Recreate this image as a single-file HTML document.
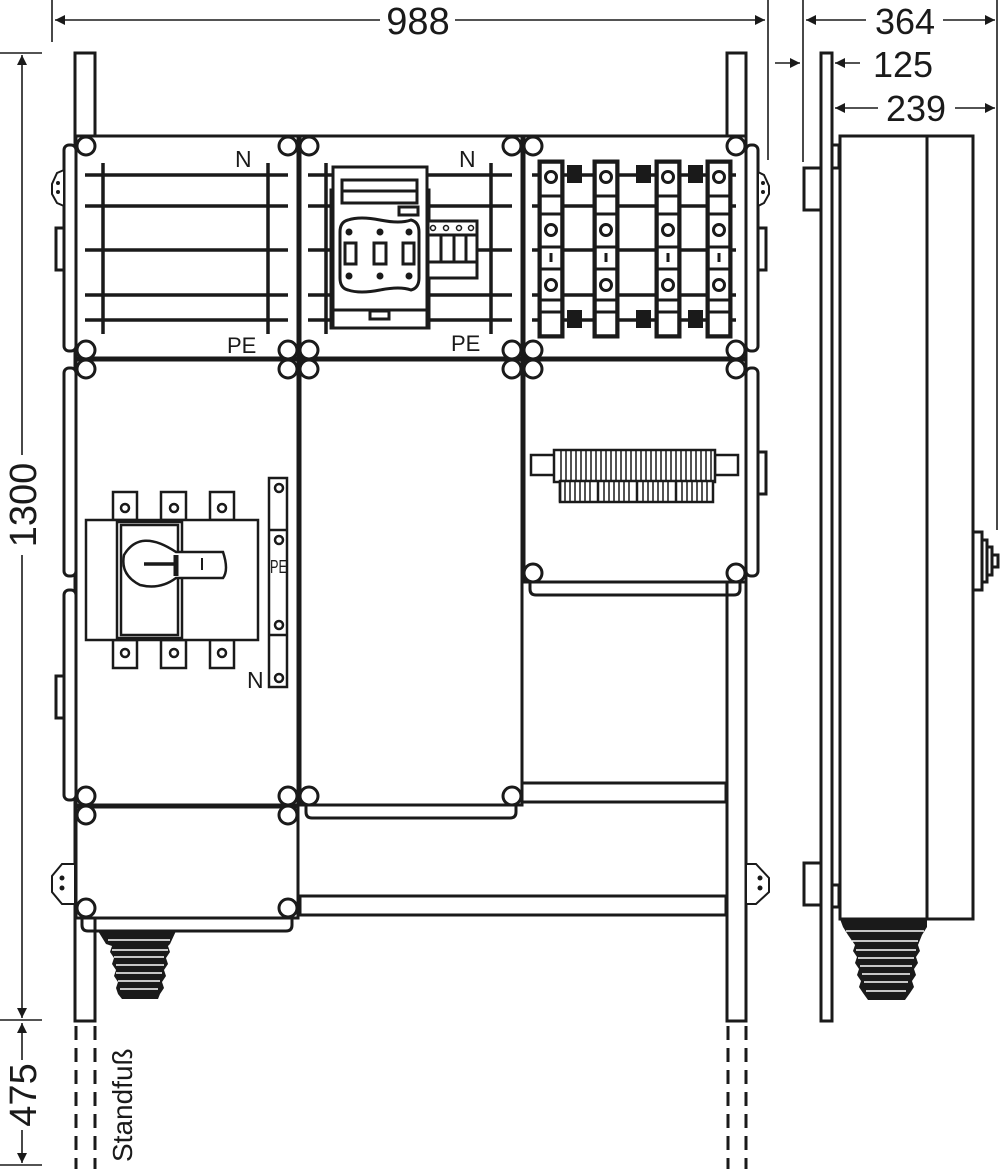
<!DOCTYPE html>
<html><head><meta charset="utf-8"><style>
html,body{margin:0;padding:0;background:#fff}
svg{display:block}
text{font-family:"Liberation Sans",sans-serif;fill:#1a1a1a}
</style></head><body>
<svg width="1000" height="1169" viewBox="0 0 1000 1169" xmlns="http://www.w3.org/2000/svg">
<defs>
<marker id="a" viewBox="0 0 10 10" refX="10" refY="5" markerWidth="12" markerHeight="10" markerUnits="userSpaceOnUse" orient="auto-start-reverse"><path d="M0,0 L10,5 L0,10z" fill="#1a1a1a"/></marker>
</defs>
<g stroke="#1a1a1a" stroke-width="1.6" fill="none">
<line x1="52" y1="0" x2="52" y2="42"/>
<line x1="768" y1="0" x2="768" y2="160"/>
<line x1="803" y1="0" x2="803" y2="162"/>
<line x1="997" y1="0" x2="997" y2="530"/>
<line x1="55" y1="20" x2="380" y2="20" marker-start="url(#a)"/>
<line x1="455" y1="20" x2="765" y2="20" marker-end="url(#a)"/>
<line x1="806" y1="20" x2="866" y2="20" marker-start="url(#a)"/>
<line x1="943" y1="20" x2="995" y2="20" marker-end="url(#a)"/>
<line x1="775" y1="63" x2="800" y2="63" marker-end="url(#a)"/>
<line x1="835" y1="63" x2="860" y2="63" marker-start="url(#a)"/>
<line x1="835" y1="108" x2="878" y2="108" marker-start="url(#a)"/>
<line x1="955" y1="108" x2="995" y2="108" marker-end="url(#a)"/>
<line x1="0" y1="53" x2="42" y2="53"/>
<line x1="0" y1="1020" x2="42" y2="1020"/>
<line x1="0" y1="1165" x2="42" y2="1165"/>
<line x1="22" y1="55" x2="22" y2="455" marker-start="url(#a)"/>
<line x1="22" y1="555" x2="22" y2="1018" marker-end="url(#a)"/>
<line x1="22" y1="1023" x2="22" y2="1060" marker-start="url(#a)"/>
<line x1="22" y1="1130" x2="22" y2="1163" marker-end="url(#a)"/>
</g>
<g style="fill:#222">
<text x="418" y="34" font-size="38" text-anchor="middle">988</text>
<text x="905" y="34" font-size="36" text-anchor="middle">364</text>
<text x="903" y="77" font-size="36" text-anchor="middle">125</text>
<text x="916" y="121" font-size="36" text-anchor="middle">239</text>
<text transform="translate(36,505) rotate(-90)" font-size="38" text-anchor="middle">1300</text>
<text transform="translate(36,1095) rotate(-90)" font-size="38" text-anchor="middle">475</text>
<text transform="translate(132,1162) rotate(-90)" font-size="28">Standfuß</text>
</g>

<g stroke="#1a1a1a" stroke-width="3" fill="none">
<rect x="75" y="53" width="20" height="968" fill="#fff"/>
<rect x="727" y="53" width="19" height="968" fill="#fff"/>
<g stroke-dasharray="14,8" stroke-width="3">
<line x1="76" y1="1026" x2="76" y2="1169"/><line x1="95" y1="1026" x2="95" y2="1169"/>
<line x1="728" y1="1026" x2="728" y2="1169"/><line x1="746" y1="1026" x2="746" y2="1169"/>
</g>
<rect x="522" y="783" width="204" height="19" fill="#fff"/>
<rect x="300" y="896" width="426" height="19" fill="#fff"/>
<rect x="64" y="145" width="12" height="206" rx="5" fill="#fff"/>
<rect x="64" y="368" width="12" height="208" rx="5" fill="#fff"/>
<rect x="64" y="590" width="12" height="210" rx="5" fill="#fff"/>
<rect x="56" y="228" width="8" height="42"/>
<rect x="56" y="676" width="8" height="42"/>
<path d="M64,170 L57,173 L52,184 L52,194 L57,203 L64,206 Z" stroke-width="2" fill="#fff"/>
<path d="M75,864 L62,864 L52,876 L52,892 L62,904 L75,904 Z" stroke-width="2" fill="#fff"/>
<rect x="746" y="145" width="12" height="206" rx="5" fill="#fff"/>
<rect x="746" y="368" width="12" height="208" rx="5" fill="#fff"/>
<rect x="758" y="228" width="8" height="42"/>
<rect x="758" y="452" width="8" height="42"/>
<path d="M758,172 L764,175 L769,186 L769,194 L764,203 L758,206 Z" stroke-width="2" fill="#fff"/>
<path d="M746,864 L756,864 L769,878 L769,892 L756,904 L746,904 Z" stroke-width="2" fill="#fff"/>

<rect x="76" y="136" width="222" height="222" fill="#fff"/>
<rect x="300" y="136" width="222" height="222" fill="#fff"/>
<rect x="524" y="136" width="222" height="222" fill="#fff"/>
<rect x="76" y="360" width="222" height="445" fill="#fff"/>
<rect x="300" y="360" width="222" height="445" fill="#fff"/>
<rect x="524" y="360" width="222" height="222" fill="#fff"/>
<rect x="76" y="807" width="222" height="111" fill="#fff"/>
<path d="M306,805 L306,812 Q306,818 312,818 L510,818 Q516,818 516,812 L516,805"/>
<path d="M530,582 L530,589 Q530,595 536,595 L734,595 Q740,595 740,589 L740,582"/>
<path d="M82,918 L82,925 Q82,931 88,931 L286,931 Q292,931 292,925 L292,918"/>
<g stroke-width="3.5">
<line x1="85" y1="175" x2="288" y2="175"/><line x1="85" y1="206" x2="288" y2="206"/>
<line x1="85" y1="250" x2="288" y2="250"/><line x1="85" y1="295" x2="288" y2="295"/>
<line x1="85" y1="320" x2="288" y2="320"/>
<line x1="103" y1="163" x2="103" y2="334"/><line x1="268" y1="163" x2="268" y2="334"/>
<line x1="308" y1="175" x2="512" y2="175"/><line x1="308" y1="206" x2="512" y2="206"/>
<line x1="308" y1="250" x2="512" y2="250"/><line x1="308" y1="295" x2="512" y2="295"/>
<line x1="308" y1="320" x2="512" y2="320"/>
<line x1="326" y1="163" x2="326" y2="334"/><line x1="491" y1="163" x2="491" y2="334"/>
<line x1="532" y1="175" x2="736" y2="175"/><line x1="532" y1="206" x2="736" y2="206"/>
<line x1="532" y1="250" x2="736" y2="250"/><line x1="532" y1="295" x2="736" y2="295"/>
<line x1="532" y1="320" x2="736" y2="320"/>
</g>
<rect x="331" y="190" width="98" height="138" fill="#fff"/>
<rect x="333" y="167" width="94" height="161" fill="#fff"/>
<line x1="333" y1="310" x2="427" y2="310"/>
<rect x="342" y="180" width="75" height="23"/><line x1="342" y1="191" x2="417" y2="191"/>
<rect x="399" y="207" width="19" height="8"/>
<path d="M348,220 Q360,216 380,220 Q400,224 411,220 Q419,222 419,232 L419,278 Q419,288 411,290 Q400,286 380,290 Q360,294 348,290 Q340,288 340,278 L340,232 Q340,222 348,220z"/>
<rect x="345" y="243" width="11" height="21"/><rect x="374" y="243" width="12" height="21"/><rect x="403" y="243" width="11" height="21"/>
<rect x="370" y="311" width="19" height="8"/>
<rect x="428" y="221" width="49" height="57" fill="#fff"/>
<line x1="428" y1="235" x2="477" y2="235"/><line x1="428" y1="262" x2="477" y2="262"/>
<line x1="441" y1="235" x2="441" y2="262"/><line x1="454" y1="235" x2="454" y2="262"/><line x1="466" y1="235" x2="466" y2="262"/>
</g>
<g fill="#1a1a1a">
<circle cx="349" cy="232" r="3.5"/><circle cx="380" cy="232" r="3.5"/><circle cx="409" cy="232" r="3.5"/>
<circle cx="349" cy="276" r="3.5"/><circle cx="380" cy="276" r="3.5"/><circle cx="409" cy="276" r="3.5"/>
<circle cx="58" cy="183" r="2"/><circle cx="58" cy="192" r="2"/><circle cx="62" cy="878" r="2.5"/><circle cx="62" cy="888" r="2.5"/>
<circle cx="763" cy="183" r="2"/><circle cx="763" cy="192" r="2"/><circle cx="760" cy="878" r="2.5"/><circle cx="760" cy="888" r="2.5"/>
</g>
<g fill="#fff" stroke="#1a1a1a" stroke-width="1.5">
<circle cx="433" cy="228" r="2.5"/><circle cx="446" cy="228" r="2.5"/><circle cx="459" cy="228" r="2.5"/><circle cx="471" cy="228" r="2.5"/>
</g>
<g stroke="#1a1a1a" stroke-width="3" fill="#fff">
<g id="fc">
<rect x="539" y="161" width="24" height="176"/>
<rect x="541" y="163" width="20" height="172" stroke-width="1.5"/>
<line x1="541" y1="196" x2="561" y2="196"/><line x1="541" y1="214" x2="561" y2="214"/>
<line x1="541" y1="247" x2="561" y2="247"/><line x1="541" y1="269" x2="561" y2="269"/>
<line x1="541" y1="300" x2="561" y2="300"/><line x1="541" y1="312" x2="561" y2="312"/>
<circle cx="551" cy="177" r="5.5"/><circle cx="551" cy="230" r="5.5"/><circle cx="551" cy="285" r="5.5"/>
<line x1="551" y1="253" x2="551" y2="262"/>
</g>
<use href="#fc" x="55"/><use href="#fc" x="117"/><use href="#fc" x="168"/>
</g>
<g fill="#1a1a1a">
<rect x="567" y="165" width="15" height="18"/><rect x="636" y="165" width="15" height="18"/><rect x="688" y="165" width="15" height="18"/>
<rect x="567" y="310" width="15" height="18"/><rect x="636" y="310" width="15" height="18"/><rect x="688" y="310" width="15" height="18"/>
</g>
<g stroke="#1a1a1a" stroke-width="2.5" fill="#fff">
<rect x="531" y="455" width="24" height="20"/><rect x="715" y="455" width="23" height="20"/>
<rect x="554" y="450" width="161" height="32"/>
<rect x="560" y="481" width="153" height="21"/>
<path d="M560,481 V502 M598,481 V502 M637,481 V502 M676,481 V502" />
<path d="M561,450v32M566,450v32M571,450v32M576,450v32M581,450v32M586,450v32M591,450v32M596,450v32M601,450v32M606,450v32M611,450v32M616,450v32M621,450v32M626,450v32M631,450v32M636,450v32M641,450v32M646,450v32M651,450v32M656,450v32M661,450v32M666,450v32M671,450v32M676,450v32M681,450v32M686,450v32M691,450v32M696,450v32M701,450v32M706,450v32M711,450v32" stroke-width="1.5"/>
<path d="M565,482v20M570,482v20M575,482v20M580,482v20M585,482v20M590,482v20M604,482v20M609,482v20M614,482v20M619,482v20M624,482v20M629,482v20M643,482v20M648,482v20M653,482v20M658,482v20M663,482v20M668,482v20M682,482v20M687,482v20M692,482v20M697,482v20M702,482v20M707,482v20" stroke-width="1.5"/>
</g>
<g stroke="#1a1a1a" stroke-width="2.5" fill="#fff">
<rect x="113" y="492" width="24" height="28"/><rect x="161" y="492" width="25" height="28"/><rect x="210" y="492" width="24" height="28"/>
<rect x="113" y="640" width="24" height="28"/><rect x="161" y="640" width="25" height="28"/><rect x="210" y="640" width="24" height="28"/>
<circle cx="125" cy="508" r="4"/><circle cx="174" cy="508" r="4"/><circle cx="222" cy="508" r="4"/>
<circle cx="125" cy="653" r="4"/><circle cx="174" cy="653" r="4"/><circle cx="222" cy="653" r="4"/>
<rect x="86" y="520" width="172" height="120"/>
<rect x="117" y="522" width="65" height="116"/>
<rect x="121" y="525" width="57" height="110"/>
<path d="M176,552 Q140,528 124,555 Q120,575 140,585 Q160,590 176,578 L223,578 Q229,570 223,552 Z"/>
<line x1="144" y1="564" x2="178" y2="564" stroke-width="3.5"/>
<line x1="176" y1="555" x2="176" y2="576" stroke-width="5"/>
<line x1="202" y1="558" x2="202" y2="570" stroke-width="2"/>
<rect x="269" y="478" width="18" height="209"/>
<line x1="269" y1="530" x2="287" y2="530"/><line x1="269" y1="635" x2="287" y2="635"/>
<circle cx="279" cy="488" r="4"/><circle cx="279" cy="540" r="4"/><circle cx="279" cy="625" r="4"/><circle cx="279" cy="678" r="4"/>
</g>
<g stroke="#1a1a1a" stroke-width="3" fill="#fff">
<circle cx="86" cy="146" r="9"/><circle cx="288" cy="146" r="9"/><circle cx="309" cy="146" r="9"/><circle cx="512" cy="146" r="9"/><circle cx="533" cy="146" r="9"/><circle cx="736" cy="146" r="9"/>
<circle cx="86" cy="350" r="9"/><circle cx="288" cy="350" r="9"/><circle cx="309" cy="350" r="9"/><circle cx="512" cy="350" r="9"/><circle cx="533" cy="350" r="9"/><circle cx="736" cy="350" r="9"/>
<circle cx="86" cy="369" r="9"/><circle cx="288" cy="369" r="9"/><circle cx="309" cy="369" r="9"/><circle cx="512" cy="369" r="9"/><circle cx="533" cy="369" r="9"/><circle cx="736" cy="369" r="9"/>
<circle cx="533" cy="573" r="9"/><circle cx="736" cy="573" r="9"/>
<circle cx="86" cy="796" r="9"/><circle cx="288" cy="796" r="9"/><circle cx="309" cy="796" r="9"/><circle cx="512" cy="796" r="9"/>
<circle cx="86" cy="815" r="9"/><circle cx="288" cy="815" r="9"/>
<circle cx="86" cy="908" r="9"/><circle cx="288" cy="908" r="9"/>
</g>
<g fill="#1a1a1a">
<path d="M98,931 L176,931 L170,944 L168,946 L170,952 L166,958 L168,964 L164,970 L166,976 L162,982 L164,988 L160,994 L158,999 L122,999 L118,994 L116,988 L118,982 L114,976 L116,970 L112,964 L114,958 L110,952 L112,946 L106,944z"/>
</g>
<g stroke="#fff" stroke-width="1.5">
<line x1="108" y1="940" x2="170" y2="940"/><line x1="112" y1="950" x2="168" y2="950"/><line x1="114" y1="957" x2="164" y2="957"/>
<line x1="116" y1="965" x2="164" y2="965"/><line x1="116" y1="973" x2="162" y2="973"/><line x1="118" y1="981" x2="160" y2="981"/>
<line x1="120" y1="989" x2="158" y2="989"/>
</g>
<g stroke="#1a1a1a" stroke-width="3" fill="#fff">
<rect x="821" y="53" width="11" height="968"/>
<rect x="804" y="168" width="17" height="42"/>
<rect x="804" y="863" width="17" height="42"/>
<rect x="832" y="145" width="7" height="23"/>
<rect x="832" y="885" width="7" height="22"/>
<rect x="840" y="136" width="133" height="783"/>
<line x1="927" y1="136" x2="927" y2="919"/>
<rect x="973" y="532" width="9" height="58"/>
<rect x="982" y="540" width="5" height="42"/>
<rect x="987" y="547" width="5" height="28"/>
<rect x="992" y="555" width="6" height="12"/>
</g>
<g fill="#1a1a1a">
<path d="M840,919 L927,919 L927,927 L922,935 L918,945 L920,951 L916,957 L918,963 L914,969 L916,975 L912,981 L914,987 L910,993 L905,1000 L868,1000 L863,993 L859,987 L861,981 L857,975 L859,969 L855,963 L857,957 L853,951 L855,945 L848,935 L843,927z"/>
</g>
<g stroke="#fff" stroke-width="1.5">
<line x1="846" y1="931" x2="924" y2="931"/><line x1="852" y1="941" x2="918" y2="941"/><line x1="856" y1="950" x2="916" y2="950"/>
<line x1="858" y1="958" x2="914" y2="958"/><line x1="860" y1="966" x2="912" y2="966"/><line x1="862" y1="974" x2="910" y2="974"/>
<line x1="864" y1="982" x2="908" y2="982"/><line x1="866" y1="991" x2="906" y2="991"/>
</g>
<text x="235" y="167" font-size="23">N</text>
<text x="459" y="167" font-size="23">N</text>
<text x="227" y="353" font-size="22">PE</text>
<text x="451" y="351" font-size="22">PE</text>
<text x="270" y="573" font-size="18" textLength="17" lengthAdjust="spacingAndGlyphs">PE</text>
<text x="247" y="688" font-size="23">N</text>
</svg>
</body></html>
